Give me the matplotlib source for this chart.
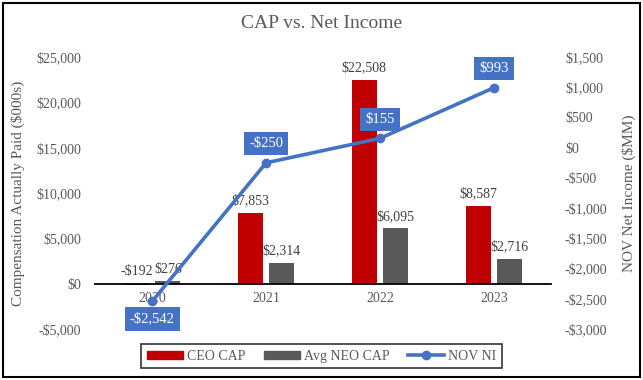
import matplotlib
matplotlib.use("Agg")
import matplotlib.pyplot as plt
from matplotlib.patches import Rectangle
from matplotlib.lines import Line2D
import numpy as np

years = ["2020", "2021", "2022", "2023"]
ceo_cap = [-192, 7853, 22508, 8587]
neo_cap = [276, 2314, 6095, 2716]
nov_ni = [-2542, -250, 155, 993]
left_ticks = [-5000, 0, 5000, 10000, 15000, 20000, 25000]
right_ticks = [-3000, -2500, -2000, -1500, -1000, -500, 0, 500, 1000, 1500]

plt.rcParams['font.family'] = ['Liberation Serif', 'DejaVu Serif']

RED = "#C00000"
GRAY = "#595959"
BLUE = "#4472C4"
TXT = "#595959"

def money(v):
    return ("-$" if v < 0 else "$") + f"{abs(v):,.0f}"

fig = plt.figure(figsize=(6.43, 3.80), dpi=100)
ax = fig.add_axes([0.148, 0.134, 0.709, 0.716])
ax2 = ax.twinx()

x = np.arange(len(years))
w = 0.22
off = 0.138
ax.bar(x - off, ceo_cap, w, color=RED, label="CEO CAP", zorder=2)
ax.bar(x + off, neo_cap, w, color=GRAY, label="Avg NEO CAP", zorder=2)

for xi, v in zip(x - off, ceo_cap):
    ax.annotate(money(v), (xi, max(v, 0)), xytext=(0, 4), textcoords="offset points",
                ha="center", va="bottom", fontsize=10, color="#404040")
for xi, v in zip(x + off, neo_cap):
    ax.annotate(money(v), (xi, max(v, 0)), xytext=(0, 4), textcoords="offset points",
                ha="center", va="bottom", fontsize=10, color="#404040")

ax.set_xlim(-0.5, len(years) - 0.5)
ax.set_ylim(-5000, 25000)
ax.set_yticks(left_ticks)
ax.set_yticklabels([money(t) for t in left_ticks])
ax.set_xticks(x)
ax.set_xticklabels(years)
ax.tick_params(axis="both", length=0, labelsize=10, labelcolor=TXT)
ax.tick_params(axis="x", pad=6)
ax.tick_params(axis="y", pad=10)

for s in ("top", "left", "right"):
    ax.spines[s].set_visible(False)
ax.spines["bottom"].set_position(("data", 0))
ax.spines["bottom"].set_color("black")
ax.spines["bottom"].set_linewidth(1.3)
ax.spines["bottom"].set_zorder(3)
for s in ax2.spines.values():
    s.set_visible(False)

ax2.plot(x, nov_ni, color=BLUE, lw=2.6, marker="o", markersize=6, label="NOV NI", zorder=4)
ax2.set_ylim(-3000, 1500)
ax2.set_yticks(right_ticks)
ax2.set_yticklabels([money(t) for t in right_ticks])
ax2.tick_params(axis="y", length=0, labelsize=10, labelcolor=TXT, pad=10)

for xi, v in zip(x, nov_ni):
    dy = -8 if v < -1000 else 9
    ax2.annotate(money(v), (xi, v), xytext=(0, dy), textcoords="offset points",
                 ha="center", va="top" if dy < 0 else "bottom", fontsize=10.5, color="white",
                 bbox=dict(boxstyle="square,pad=0.35", fc=BLUE, ec="none"), zorder=5)

ax.set_ylabel("Compensation Actually Paid ($000s)", fontsize=11, color=TXT, labelpad=8)
ax2.set_ylabel("NOV Net Income ($MM)", fontsize=11, color=TXT, rotation=90, labelpad=10)
fig.text(0.5, 0.937, "CAP vs. Net Income", ha="center", va="center", fontsize=14, color=TXT)

handles = [Rectangle((0, 0), 1, 1, color=RED), Rectangle((0, 0), 1, 1, color=GRAY),
           Line2D([0], [0], color=BLUE, lw=2.6, marker="o", markersize=6)]
leg = fig.legend(handles, ["CEO CAP", "Avg NEO CAP", "NOV NI"], loc="center",
                 bbox_to_anchor=(0.5, 0.063), ncol=3, fontsize=10, frameon=True,
                 fancybox=False, edgecolor="black", handlelength=2.6, handleheight=0.5,
                 columnspacing=1.3, handletextpad=0.3, borderpad=0.4)
leg.get_frame().set_linewidth(1.2)
for t in leg.get_texts():
    t.set_color(TXT)

fig.patches.append(Rectangle((0.004, 0.008), 0.991, 0.984, transform=fig.transFigure,
                             fill=False, ec="black", lw=1.5))

fig.savefig("out.png", dpi=100)
